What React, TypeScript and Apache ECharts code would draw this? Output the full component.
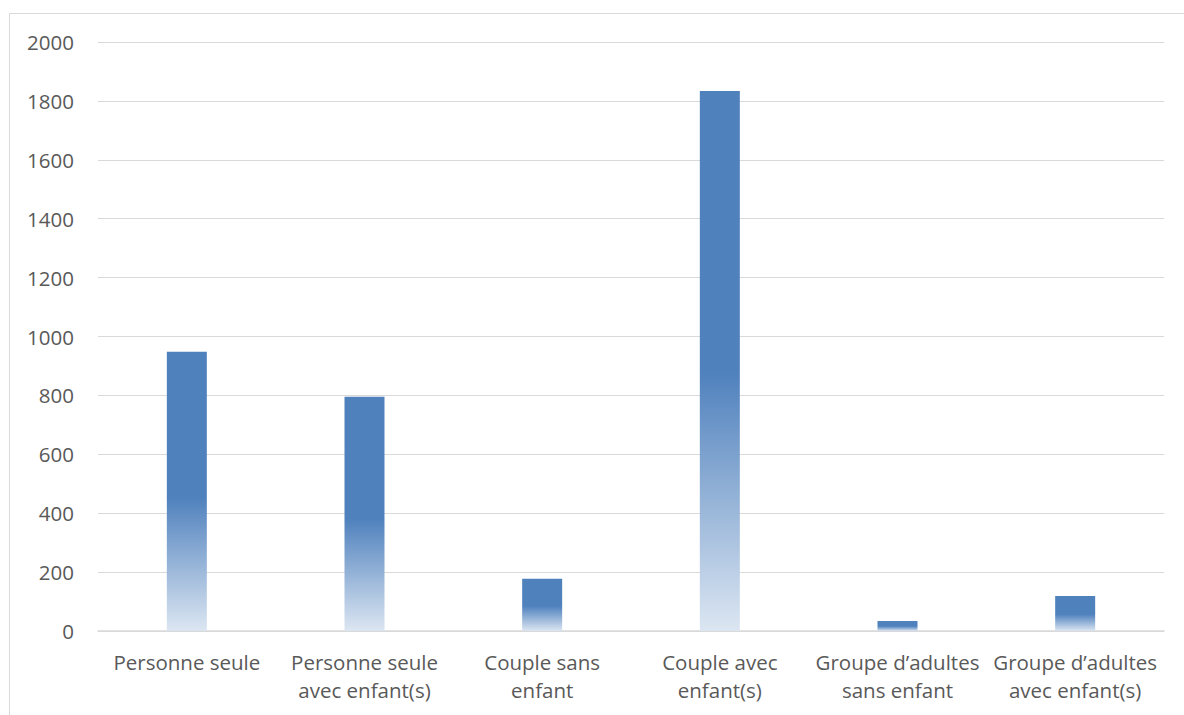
import React, { useEffect, useRef } from "react";
import * as echarts from "echarts";

const categories = [
  "Personne seule",
  "Personne seule\navec enfant(s)",
  "Couple sans\nenfant",
  "Couple avec\nenfant(s)",
  "Groupe d\u2019adultes\nsans enfant",
  "Groupe d\u2019adultes\navec enfant(s)",
];
const values = [948, 795, 177, 1834, 34, 119];
const yTicks = { min: 0, max: 2000, interval: 200 };

export default function App() {
  const ref = useRef<HTMLDivElement>(null);
  useEffect(() => {
    if (!ref.current) return;
    const chart = echarts.init(ref.current, null, { renderer: "svg" });
    const font = "'Open Sans', sans-serif";
    chart.setOption({
      animation: false,
      backgroundColor: "#ffffff",
      graphic: [
        {
          type: "rect",
          shape: { x: 9.5, y: 13.5, width: 1200, height: 720 },
          style: { fill: "none", stroke: "#d9d9d9", lineWidth: 1 },
          silent: true,
          z: -1,
        },
      ],
      grid: { left: 98, right: 20, top: 42, bottom: 84, containLabel: false },
      xAxis: {
        type: "category",
        data: categories,
        axisLine: { lineStyle: { color: "#d9d9d9", width: 1.5 } },
        axisTick: { show: false },
        axisLabel: {
          color: "#595959",
          fontFamily: font,
          fontSize: 20.5,
          lineHeight: 28,
          margin: 17,
          interval: 0,
        },
      },
      yAxis: {
        type: "value",
        min: yTicks.min,
        max: yTicks.max,
        interval: yTicks.interval,
        axisLine: { show: false },
        axisTick: { show: false },
        splitLine: { lineStyle: { color: "#d9d9d9", width: 1 } },
        axisLabel: {
          color: "#595959",
          fontFamily: font,
          fontSize: 20.5,
          margin: 24,
          formatter: (v: number) => String(v),
        },
      },
      series: [
        {
          type: "bar",
          data: values,
          barWidth: 40,
          itemStyle: {
            color: new echarts.graphic.LinearGradient(0, 0, 0, 1, [
              { offset: 0, color: "#4f81bd" },
              { offset: 0.52, color: "#4f81bd" },
              { offset: 1, color: "#dce6f2" },
            ]),
          },
        },
      ],
    });
    return () => chart.dispose();
  }, []);
  return (
    <div
      ref={ref}
      style={{ position: "fixed", left: 0, top: 0, width: 1184, height: 715 }}
    />
  );
}
